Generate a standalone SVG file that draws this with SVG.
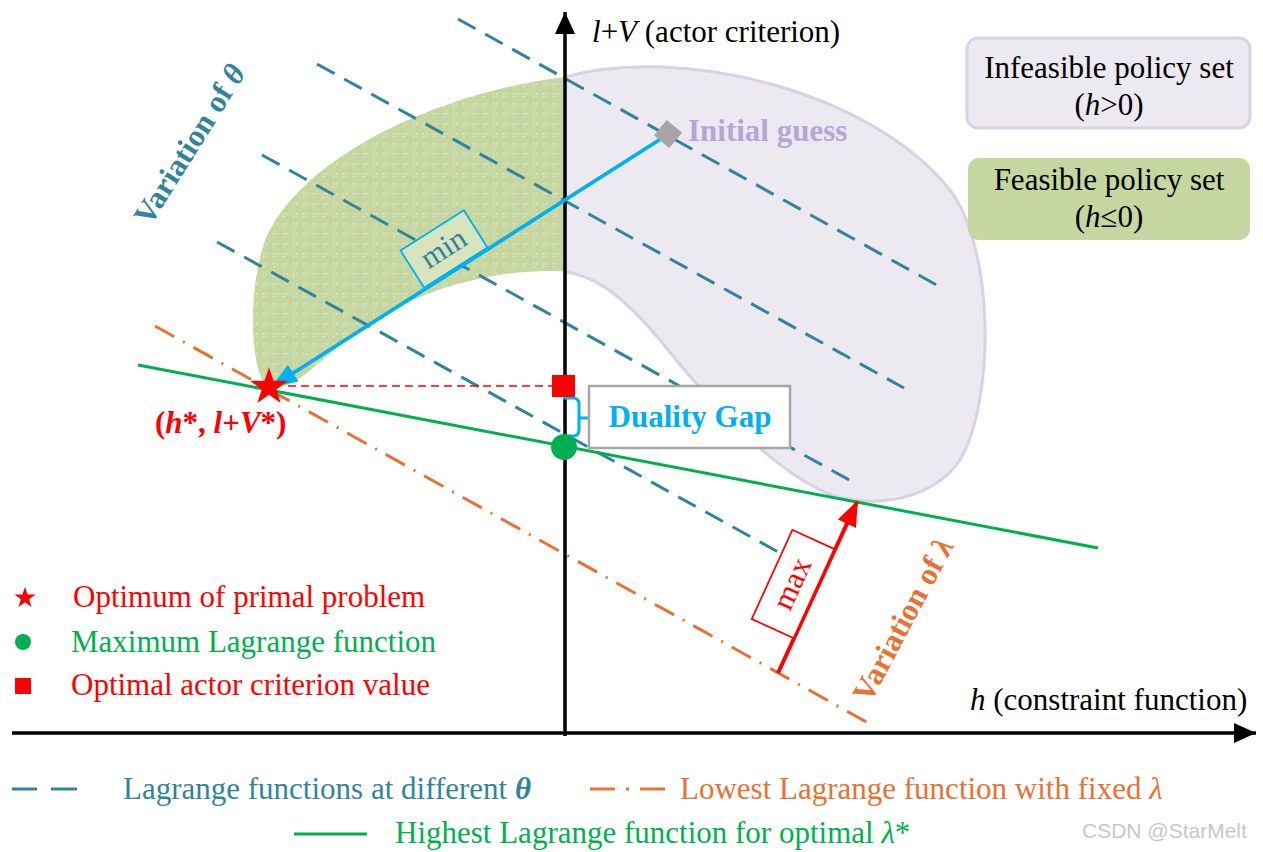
<svg xmlns="http://www.w3.org/2000/svg" width="1263" height="852" viewBox="0 0 1263 852">
<style>
text{font-family:"Liberation Serif","Times New Roman",serif;font-size:31px}
.it{font-style:italic}
.teal{stroke:#31849B;stroke-width:3;fill:none;stroke-dasharray:20 11}
.orng{stroke:#E97132;stroke-width:3;fill:none;stroke-dasharray:22 10 2 10}
.grn{stroke:#00B050;stroke-width:3;fill:none}
</style>
<defs>
<clipPath id="cl"><rect x="0" y="0" width="565" height="852"/></clipPath>
<clipPath id="cr"><rect x="565" y="0" width="700" height="852"/></clipPath>
<pattern id="dots" width="10" height="10" patternUnits="userSpaceOnUse"><rect x="3" y="3" width="1.5" height="1.5" fill="#FFFFFF" opacity="0.45"/><rect x="6" y="3" width="1.5" height="1.5" fill="#FFFFFF" opacity="0.45"/><rect x="3" y="6" width="1.5" height="1.5" fill="#FFFFFF" opacity="0.45"/></pattern>
<path id="blob" d="M268,388 C250,370 248,300 262,250 C285,170 420,95 565,77 C680,45 870,90 950,190 C995,250 995,400 960,460 C930,505 860,510 820,490 C760,460 700,390 660,340 C620,292 590,272 555,271 C480,270 400,295 340,345 C310,370 290,392 268,388 Z"/>
<path id="star" d="M0,-18 L4.11,-5.66 L17.12,-5.56 L6.66,2.16 L10.58,14.56 L0,7 L-10.58,14.56 L-6.66,2.16 L-17.12,-5.56 L-4.11,-5.66 Z"/>
<marker id="ab" markerUnits="userSpaceOnUse" markerWidth="28" markerHeight="24" refX="24" refY="12" orient="auto"><path d="M0,2 L26,12 L0,22 Z" fill="#00B0F0"/></marker>
<marker id="ar" markerUnits="userSpaceOnUse" markerWidth="28" markerHeight="24" refX="24" refY="12" orient="auto"><path d="M0,2 L26,12 L0,22 Z" fill="#FF0000"/></marker>
<marker id="ak" markerUnits="userSpaceOnUse" markerWidth="24" markerHeight="22" refX="22" refY="11" orient="auto"><path d="M0,1 L22,11 L0,21 Z" fill="#000"/></marker>
</defs>

<g id="policy-sets">
<use href="#blob" fill="#C5D6A0" clip-path="url(#cl)"/>
<use href="#blob" fill="url(#dots)" clip-path="url(#cl)"/>
<use href="#blob" fill="#ECE9F1" stroke="#D9D2E5" stroke-width="3" clip-path="url(#cr)"/>
</g>

<g id="connectors">
<line class="teal" x1="458" y1="19" x2="942" y2="288"/>
<line class="teal" x1="317" y1="64" x2="904" y2="388"/>
<line class="teal" x1="262" y1="155" x2="851" y2="481"/>
<line class="teal" x1="217" y1="242" x2="780" y2="553"/>
<line class="orng" x1="155" y1="326" x2="870" y2="724"/>
<line class="grn" x1="138" y1="365" x2="1098" y2="548"/>
<line x1="288" y1="386" x2="552" y2="386" stroke="#FF0000" stroke-width="1.6" stroke-dasharray="8 5"/>
<line x1="565" y1="736" x2="565" y2="12" stroke="#000" stroke-width="3.5" marker-end="url(#ak)"/>
<line x1="12" y1="733" x2="1256" y2="733" stroke="#000" stroke-width="3.5" marker-end="url(#ak)"/>
<line x1="667" y1="135" x2="273" y2="386" stroke="#00B0F0" stroke-width="3.8" marker-end="url(#ab)"/>
<line x1="778" y1="673" x2="857" y2="502" stroke="#FF0000" stroke-width="4" marker-end="url(#ar)"/>
<path d="M563,398 H573 Q579,398 579,404 V430 Q579,436 573,436 H563" fill="none" stroke="#00B0F0" stroke-width="3"/>
<line x1="579" y1="418" x2="590" y2="418" stroke="#00B0F0" stroke-width="3"/>
</g>

<g id="initial-guess">
<rect x="-10" y="-10" width="20" height="20" fill="#A5A5A5" transform="translate(668,134) rotate(40)"/>
<text x="688" y="141" font-weight="bold" fill="#B4A7D6">Initial guess</text>
</g>

<g id="optimum">
<use href="#star" fill="#FF0000" transform="translate(269,387) scale(1.1)"/>
<text x="155" y="433" font-weight="bold" fill="#FF0000">(<tspan class="it">h</tspan>*, <tspan class="it">l</tspan>+<tspan class="it">V</tspan>*)</text>
</g>

<g id="optimal-value"><rect x="552" y="375" width="23" height="22" fill="#FF0000"/></g>
<g id="max-lagrange"><circle cx="564" cy="447" r="13" fill="#00B050"/></g>

<g id="min-box" transform="translate(444,249) rotate(-32.5)">
<rect x="-37.5" y="-22" width="75" height="44" fill="#D7E4BD" stroke="#00B0F0" stroke-width="1.8"/>
<text x="0" y="9" text-anchor="middle" fill="#31849B">min</text>
</g>

<g id="max-box" transform="translate(793,584) rotate(-65.5)">
<rect x="-49" y="-23" width="98" height="46" fill="#FFFFFF" stroke="#FF0000" stroke-width="1.8"/>
<text x="0" y="9" text-anchor="middle" fill="#FF0000">max</text>
</g>

<g id="duality-gap">
<rect x="589" y="386" width="201" height="62" fill="#FFFFFF" stroke="#A6A6A6" stroke-width="2.5"/>
<text x="690" y="427" text-anchor="middle" font-weight="bold" fill="#00B0F0">Duality Gap</text>
</g>

<g id="infeasible-set">
<rect x="967" y="38" width="283" height="90" rx="11" fill="#ECE9F1" stroke="#D9D2E5" stroke-width="3"/>
<text x="1109" y="78" text-anchor="middle" font-size="30">Infeasible policy set</text>
<text x="1109" y="115" text-anchor="middle" font-size="30">(<tspan class="it">h</tspan>&gt;0)</text>
</g>

<g id="feasible-set">
<rect x="968" y="158" width="282" height="82" rx="11" fill="#C5D6A0"/>
<text x="1109" y="190" text-anchor="middle" font-size="30">Feasible policy set</text>
<text x="1109" y="227" text-anchor="middle" font-size="30">(<tspan class="it">h</tspan>≤0)</text>
</g>

<g id="axis-labels">
<text x="592" y="42"><tspan class="it">l</tspan>+<tspan class="it">V</tspan> (actor criterion)</text>
<text x="970" y="710"><tspan class="it">h</tspan> (constraint function)</text>
</g>

<g id="variation-labels">
<text transform="translate(150,227) rotate(-58)" font-weight="bold" fill="#31849B">Variation of <tspan class="it">θ</tspan></text>
<text transform="translate(870,704) rotate(-62)" font-weight="bold" fill="#E97132">Variation of <tspan class="it">λ</tspan></text>
</g>

<g id="legend-markers">
<use href="#star" fill="#FF0000" transform="translate(25,598) scale(0.62)"/>
<text x="73" y="607" fill="#FF0000">Optimum of primal problem</text>
<circle cx="23" cy="642" r="8" fill="#00B050"/>
<text x="71" y="652" fill="#00B050">Maximum Lagrange function</text>
<rect x="15" y="678" width="16" height="16" fill="#FF0000"/>
<text x="71" y="695" fill="#FF0000">Optimal actor criterion value</text>
</g>

<g id="legend-lines">
<line x1="12" y1="789" x2="37" y2="789" stroke="#31849B" stroke-width="3"/>
<line x1="51" y1="789" x2="77" y2="789" stroke="#31849B" stroke-width="3"/>
<text x="123" y="799" fill="#31849B">Lagrange functions at different <tspan class="it" font-weight="bold">θ</tspan></text>
<line x1="590" y1="789" x2="615" y2="789" stroke="#E97132" stroke-width="3"/>
<line x1="626" y1="789" x2="629" y2="789" stroke="#E97132" stroke-width="3"/>
<line x1="640" y1="789" x2="665" y2="789" stroke="#E97132" stroke-width="3"/>
<text x="680" y="799" fill="#E97132">Lowest Lagrange function with fixed <tspan class="it">λ</tspan></text>
<line x1="294" y1="834" x2="367" y2="834" stroke="#00B050" stroke-width="3"/>
<text x="395" y="843" fill="#00B050">Highest Lagrange function for optimal <tspan class="it">λ</tspan>*</text>
</g>

<text x="1082" y="838" style="font-family:'Liberation Sans',Arial,sans-serif;font-size:21px" fill="#C8C8C8">CSDN @StarMelt</text>
</svg>
